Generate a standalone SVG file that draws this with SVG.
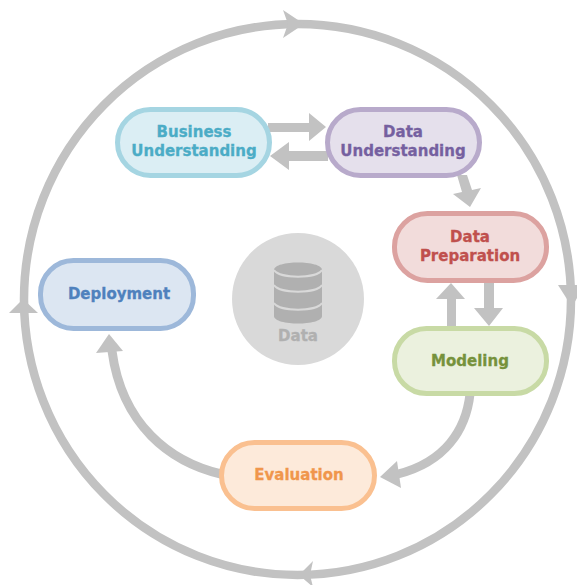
<svg xmlns="http://www.w3.org/2000/svg" width="577" height="585" viewBox="0 0 577 585">
<style>
.n{stroke-width:5}
.t{font-family:"DejaVu Sans","Liberation Sans",sans-serif;font-weight:700;font-size:15px;text-anchor:middle;stroke-width:.3}
.l{fill:none;stroke:#c2c2c2}
.h{fill:#c2c2c2}
</style>
<rect width="577" height="585" fill="#fff"/>
<g id="connectors">
<ellipse class="l" cx="297.500" cy="299.500" rx="273.500" ry="275.500" stroke-width="8.500"/>
<polygon class="h" points="283,10 304,24 283,38 288,24"/>
<polygon class="h" points="558,285 577,285 577,298 572,307"/>
<polygon class="h" points="313,561 299,575 313,587 310,575"/>
<polygon class="h" points="9,313 23,299 38,313"/>
<path class="h" d="M268,123H309V113L326,127L309,141V132H268Z"/>
<path class="h" d="M328,151H289V142L270,156L289,170V161H328Z"/>
<path class="h" d="M457,175L467,175L472,190L481,188L470,207L453,194L462,192Z"/>
<path class="h" d="M447,328V299H436L451,283L465,299H456V328Z"/>
<path class="h" d="M484,281V308H474L489,326L503,308H494V281Z"/>
<path class="l" stroke-width="9" d="M470,394C466,430 445,462 398,474"/>
<polygon class="h" points="380,477 397,461 401,488"/>
<path class="l" stroke-width="9" d="M221,474C170,462 122,425 112,351"/>
<polygon class="h" points="109,334 96,353 123,351"/>
</g>
<g id="business-understanding">
<rect class="n" x="117.500" y="109.500" width="152" height="66" rx="33" fill="#dbeef4" stroke="#a5d5e2"/>
<text class="t" fill="#4bacc6" stroke="#4bacc6" x="194" y="137">Business</text>
<text class="t" fill="#4bacc6" stroke="#4bacc6" x="194" y="156">Understanding</text>
</g>
<g id="data-understanding">
<rect class="n" x="327.500" y="109.500" width="152" height="66" rx="33" fill="#e5e0ec" stroke="#b8aacb"/>
<text class="t" fill="#7560a0" stroke="#7560a0" x="403" y="137">Data</text>
<text class="t" fill="#7560a0" stroke="#7560a0" x="403" y="156">Understanding</text>
</g>
<g id="data-preparation">
<rect class="n" x="394.500" y="213.500" width="152" height="67" rx="33" fill="#f2dcdb" stroke="#dca2a0"/>
<text class="t" fill="#c0504d" stroke="#c0504d" x="470" y="242">Data</text>
<text class="t" fill="#c0504d" stroke="#c0504d" x="470" y="261">Preparation</text>
</g>
<g id="modeling">
<rect class="n" x="394.500" y="328.500" width="152" height="65" rx="32" fill="#ebf1de" stroke="#c8daa5"/>
<text class="t" fill="#76923c" stroke="#76923c" x="470" y="366">Modeling</text>
</g>
<g id="evaluation">
<rect class="n" x="221.500" y="442.500" width="153" height="66" rx="33" fill="#fdeada" stroke="#fac090"/>
<text class="t" fill="#f0964c" stroke="#f0964c" x="299" y="480">Evaluation</text>
</g>
<g id="deployment">
<rect class="n" x="40.500" y="260.500" width="153" height="68" rx="33" fill="#dce6f2" stroke="#9db8da"/>
<text class="t" fill="#4f81bd" stroke="#4f81bd" x="119" y="299">Deployment</text>
</g>
<g id="data">
<circle cx="298" cy="299" r="66" fill="#d9d9d9"/>
<path d="M274,270C274,260 322,260 322,270V316C322,326 274,326 274,316Z" fill="#b0b0b0"/>
<path d="M274,270C280,279 316,279 322,270M274,285C280,294 316,294 322,285M274,303C280,312 316,312 322,303" fill="none" stroke="#d9d9d9" stroke-width="2"/>
<text class="t" fill="#b0b0b0" stroke="#b0b0b0" x="298" y="341">Data</text>
</g>
</svg>
